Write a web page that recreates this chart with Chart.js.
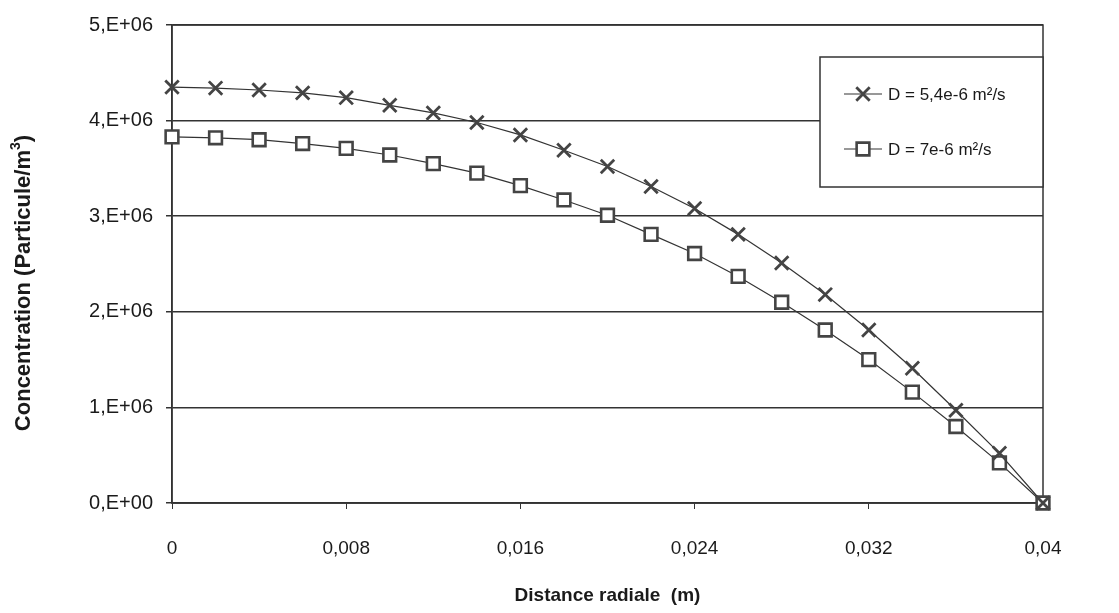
<!DOCTYPE html>
<html>
<head>
<meta charset="utf-8">
<script src="https://cdn.jsdelivr.net/npm/chart.js@4/dist/chart.umd.min.js"></script>
<style>
html, body { margin: 0; padding: 0; background: #fff; }
#wrap { width: 1119px; height: 613px; position: relative; }
</style>
</head>
<body>
<div id="wrap"><canvas id="chart" width="1119" height="613"></canvas></div>
<script>
"use strict";
var radialDistance = [0, 0.002, 0.004, 0.006, 0.008, 0.010, 0.012, 0.014, 0.016, 0.018, 0.020,
    0.022, 0.024, 0.026, 0.028, 0.030, 0.032, 0.034, 0.036, 0.038, 0.040];
var concD54 = [4350000, 4340000, 4320000, 4290000, 4240000, 4160000, 4080000, 3980000, 3850000, 3690000, 3520000,
    3310000, 3080000, 2810000, 2510000, 2180000, 1810000, 1410000, 970000, 520000, 0];
var concD70 = [3830000, 3820000, 3800000, 3760000, 3710000, 3640000, 3550000, 3450000, 3320000, 3170000, 3010000,
    2810000, 2610000, 2370000, 2100000, 1810000, 1500000, 1160000, 800000, 420000, 0];
var seriesNames = ['D = 5,4e-6 m²/s', 'D = 7e-6 m²/s'];
var xTicks = [0, 0.008, 0.016, 0.024, 0.032, 0.04];
var xTickLabels = ['0', '0,008', '0,016', '0,024', '0,032', '0,04'];
var yTicks = [0, 1000000, 2000000, 3000000, 4000000, 5000000];
var yTickLabels = ['0,E+00', '1,E+06', '2,E+06', '3,E+06', '4,E+06', '5,E+06'];

var ink = '#333';
var txt = '#1a1a1a';
var FONT = '"Liberation Sans", Arial, sans-serif';

function pts(ys) {
    return radialDistance.map(function (x, i) { return { x: x, y: ys[i] }; });
}

var framePlugin = {
    id: 'frame',
    beforeDatasetsDraw: function (chart) {
        var a = chart.chartArea, ctx = chart.ctx;
        ctx.save();
        ctx.strokeStyle = ink;
        ctx.lineWidth = 1.5;
        ctx.strokeRect(a.left, a.top, a.right - a.left, a.bottom - a.top);
        ctx.restore();
    }
};

// y title drawn by hand so the "3" can sit as a superscript
var yTitlePlugin = {
    id: 'yTitle',
    afterDraw: function (chart) {
        var ctx = chart.ctx;
        var main = 'Concentration (Particule/m', tail = ')';
        ctx.save();
        ctx.translate(24, 283);
        ctx.rotate(-Math.PI / 2);
        ctx.fillStyle = txt;
        ctx.textBaseline = 'middle';
        ctx.font = 'bold 22px ' + FONT;
        var w1 = ctx.measureText(main).width;
        ctx.font = 'bold 14px ' + FONT;
        var w2 = ctx.measureText('3').width;
        ctx.font = 'bold 22px ' + FONT;
        var w3 = ctx.measureText(tail).width;
        var x0 = -(w1 + w2 + w3) / 2;
        ctx.fillText(main, x0, 0);
        ctx.font = 'bold 14px ' + FONT;
        ctx.fillText('3', x0 + w1, -8);
        ctx.font = 'bold 22px ' + FONT;
        ctx.fillText(tail, x0 + w1 + w2, 0);
        ctx.restore();
    }
};

var legendPlugin = {
    id: 'boxLegend',
    afterDraw: function (chart) {
        var ctx = chart.ctx;
        var box = { x: 820, y: 57, w: 223, h: 130 };
        ctx.save();
        ctx.fillStyle = '#fff';
        ctx.fillRect(box.x, box.y, box.w, box.h);
        ctx.strokeStyle = ink;
        ctx.lineWidth = 1.5;
        ctx.strokeRect(box.x, box.y, box.w, box.h);
        chart.data.datasets.forEach(function (ds, i) {
            var y = box.y + 37 + i * 55;
            ctx.strokeStyle = ink;
            ctx.lineWidth = 1.2;
            ctx.beginPath();
            ctx.moveTo(844, y);
            ctx.lineTo(882, y);
            ctx.stroke();
            ctx.strokeStyle = ds.pointBorderColor;
            ctx.lineWidth = ds.pointBorderWidth;
            ctx.fillStyle = '#fff';
            Chart.helpers.drawPoint(ctx, { pointStyle: ds.pointStyle, radius: ds.pointRadius, rotation: 0, borderWidth: ds.pointBorderWidth }, 863, y);
            ctx.fillStyle = txt;
            ctx.font = '17px ' + FONT;
            ctx.textBaseline = 'middle';
            ctx.fillText(ds.label, 888, y + 1);
        });
        ctx.restore();
    }
};

new Chart(document.getElementById('chart'), {
    type: 'line',
    data: {
        datasets: [{
            label: seriesNames[0],
            data: pts(concD54),
            borderColor: ink,
            borderWidth: 1.2,
            clip: false,
            pointStyle: 'crossRot',
            pointRadius: 9.5,
            pointBorderWidth: 2.8,
            pointBorderColor: '#444',
            pointBackgroundColor: '#fff'
        }, {
            label: seriesNames[1],
            data: pts(concD70),
            borderColor: ink,
            borderWidth: 1.2,
            clip: false,
            pointStyle: 'rect',
            pointRadius: 9,
            pointBorderWidth: 2.6,
            pointBorderColor: '#444',
            pointBackgroundColor: '#fff'
        }]
    },
    options: {
        responsive: false,
        animation: false,
        devicePixelRatio: 1,
        layout: { padding: { left: 0, right: 76, top: 22, bottom: 0 } },
        plugins: { legend: { display: false }, tooltip: { enabled: false } },
        scales: {
            x: {
                type: 'linear',
                min: 0,
                max: 0.04,
                afterBuildTicks: function (s) { s.ticks = xTicks.map(function (v) { return { value: v }; }); },
                afterFit: function (s) { s.height = 110; },
                grid: { drawOnChartArea: false, color: ink, tickLength: 6, lineWidth: 1 },
                border: { color: ink, width: 1.5 },
                ticks: {
                    padding: 28,
                    maxRotation: 0,
                    color: txt,
                    font: { family: FONT, size: 19 },
                    callback: function (v) { return xTickLabels[xTicks.indexOf(v)]; }
                },
                title: {
                    display: true,
                    text: 'Distance radiale  (m)',
                    color: txt,
                    font: { family: FONT, size: 19, weight: 'bold' },
                    padding: { top: 0, bottom: 6 }
                }
            },
            y: {
                min: 0,
                max: 5000000,
                afterBuildTicks: function (s) { s.ticks = yTicks.map(function (v) { return { value: v }; }); },
                afterFit: function (s) { s.width = 172; },
                grid: { color: ink, lineWidth: 1.5, tickLength: 6 },
                border: { color: ink, width: 1.5 },
                ticks: {
                    padding: 13,
                    color: txt,
                    font: { family: FONT, size: 20 },
                    callback: function (v) { return yTickLabels[yTicks.indexOf(v)]; }
                }
            }
        }
    },
    plugins: [framePlugin, yTitlePlugin, legendPlugin]
});
</script>
</body>
</html>
